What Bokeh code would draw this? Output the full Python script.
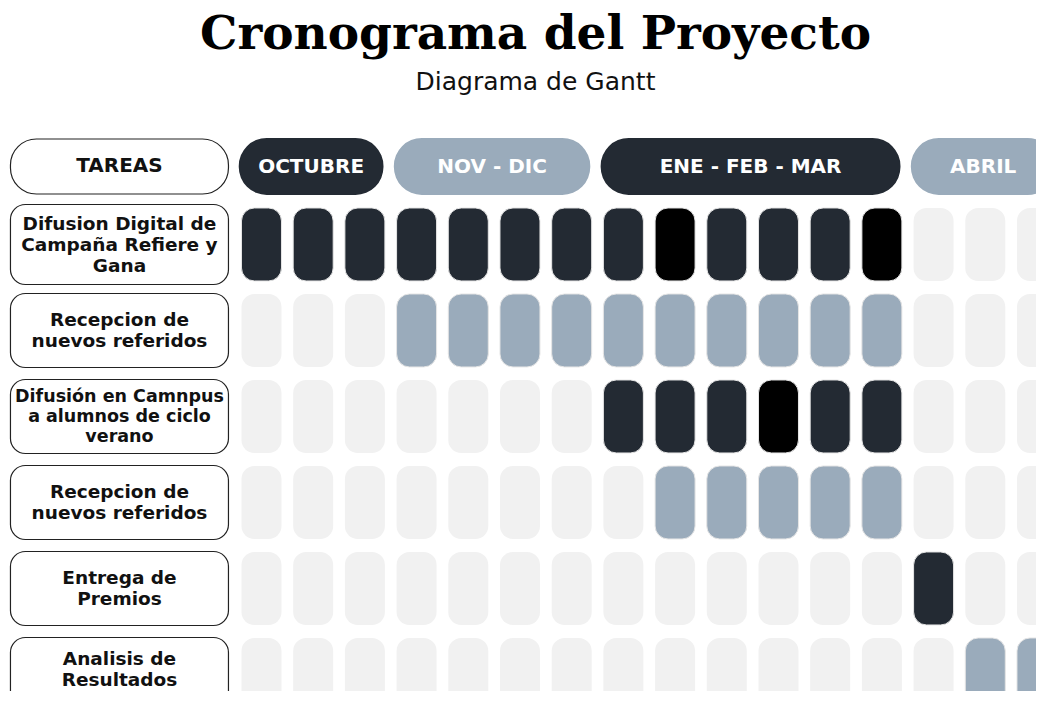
from bokeh.plotting import figure
from bokeh.models import Range1d
from bokeh.core.properties import value
from bokeh.embed import file_html
from bokeh.resources import INLINE

# ---------------- data ----------------
TITLE = "Cronograma del Proyecto"
SUBTITLE = "Diagrama de Gantt"
HEADER_LABEL = "TAREAS"

periods = ["OCTUBRE", "NOV - DIC", "ENE - FEB - MAR", "ABRIL"]
period_start = [0, 3, 7, 13]
period_end = [2, 6, 12, 15]
period_kind = ["dark", "blue", "dark", "blue"]

tasks = [
    "Difusion Digital de\nCampaña Refiere y\nGana",
    "Recepcion de\nnuevos referidos",
    "Difusión en Camnpus\na alumnos de ciclo\nverano",
    "Recepcion de\nnuevos referidos",
    "Entrega de\nPremios",
    "Analisis de\nResultados",
]
task_start = [0, 3, 7, 8, 13, 14]
task_end = [12, 12, 12, 12, 13, 15]
task_kind = ["dark", "blue", "dark", "blue", "dark", "blue"]
task_highlight = [[8, 12], [], [10], [], [], []]
N_COLS = 16

# ---------------- style ----------------
COLORS = {"dark": "#232a33", "blue": "#9aabbb", "black": "#000000", "empty": "#f1f1f1"}
W, H = 1036, 691
X0 = -5.048
X1 = X0 + W / 51.7
Y_TOP = -1.837
Y_BOT = Y_TOP + H / 86.0
HEADER_Y = 0.093
LABEL_X = -2.747
TITLE_X = 5.30
TITLE_Y = -1.465
SUB_Y = -0.895
task_font = ["18.5px", "18.5px", "17.5px", "18.5px", "18.5px", "18.5px"]
label_nudge = [0, 0, 0, 0, 0, -0.06]

p = figure(width=W, height=H, output_backend="svg", toolbar_location=None,
           x_range=Range1d(X0, X1), y_range=Range1d(Y_BOT, Y_TOP),
           min_border=0, background_fill_color="white", border_fill_color="white")
p.axis.visible = False
p.grid.visible = False
p.outline_line_color = None

# background empty cells
bx, by = [], []
for r in range(len(tasks)):
    for c in range(N_COLS):
        bx.append(c)
        by.append(r + 1)
p.rect(x=bx, y=by, width=40, height=73, width_units="screen", height_units="screen",
       fill_color=COLORS["empty"], line_color=None, border_radius=13)

# active cells
ax, ay, ac = [], [], []
for r, (s, e, k, hl) in enumerate(zip(task_start, task_end, task_kind, task_highlight)):
    for c in range(s, e + 1):
        ax.append(c)
        ay.append(r + 1)
        ac.append(COLORS["black"] if c in hl else COLORS[k])
p.rect(x=ax, y=ay, width=40, height=73, width_units="screen", height_units="screen",
       fill_color=ac, line_color="#e6e6e6", line_width=1, border_radius=13)

# header pills
pc = [(s + e) / 2 - 0.04 for s, e in zip(period_start, period_end)]
pw = [(e - s) + 0.8 for s, e in zip(period_start, period_end)]
p.rect(x=pc, y=[HEADER_Y] * len(periods), width=pw, height=57, height_units="screen",
       fill_color=[COLORS[k] for k in period_kind], line_color=None, border_radius=28)
p.text(x=pc, y=[HEADER_Y] * len(periods), text=periods, text_color="white",
       text_font=value("DejaVu Sans"), text_font_style="bold", text_font_size="20px",
       text_align="center", text_baseline="middle")

# task label boxes
box_h = [80] + [74] * (len(tasks) - 1)
ty = [r + 1 for r in range(len(tasks))]
p.rect(x=[LABEL_X] * len(tasks), y=ty, width=218, height=box_h, width_units="screen",
       height_units="screen", fill_color="white", line_color="#222222", line_width=1.2,
       border_radius=15)
for i, t in enumerate(tasks):
    p.text(x=[LABEL_X], y=[ty[i] + label_nudge[i]], text=[t], text_color="#111111",
           text_font=value("DejaVu Sans"), text_font_style="bold", text_font_size=task_font[i],
           text_align="center", text_baseline="middle", text_line_height=1.0)

# TAREAS box
p.rect(x=[LABEL_X], y=[HEADER_Y], width=218, height=55, width_units="screen",
       height_units="screen", fill_color="white", line_color="#222222", line_width=1.2,
       border_radius=26)
p.text(x=[LABEL_X], y=[HEADER_Y - 0.02], text=[HEADER_LABEL], text_color="#111111",
       text_font=value("DejaVu Sans"), text_font_style="bold", text_font_size="20px",
       text_align="center", text_baseline="middle")

# titles
p.text(x=[TITLE_X], y=[TITLE_Y], text=[TITLE], text_color="black",
       text_font=value("DejaVu Serif"), text_font_style="bold", text_font_size="47px",
       text_align="center", text_baseline="middle")
p.text(x=[TITLE_X], y=[SUB_Y], text=[SUBTITLE], text_color="#111111",
       text_font=value("DejaVu Sans"), text_font_size="25px",
       text_align="center", text_baseline="middle")

open("out.html", "w").write(file_html(p, INLINE))
